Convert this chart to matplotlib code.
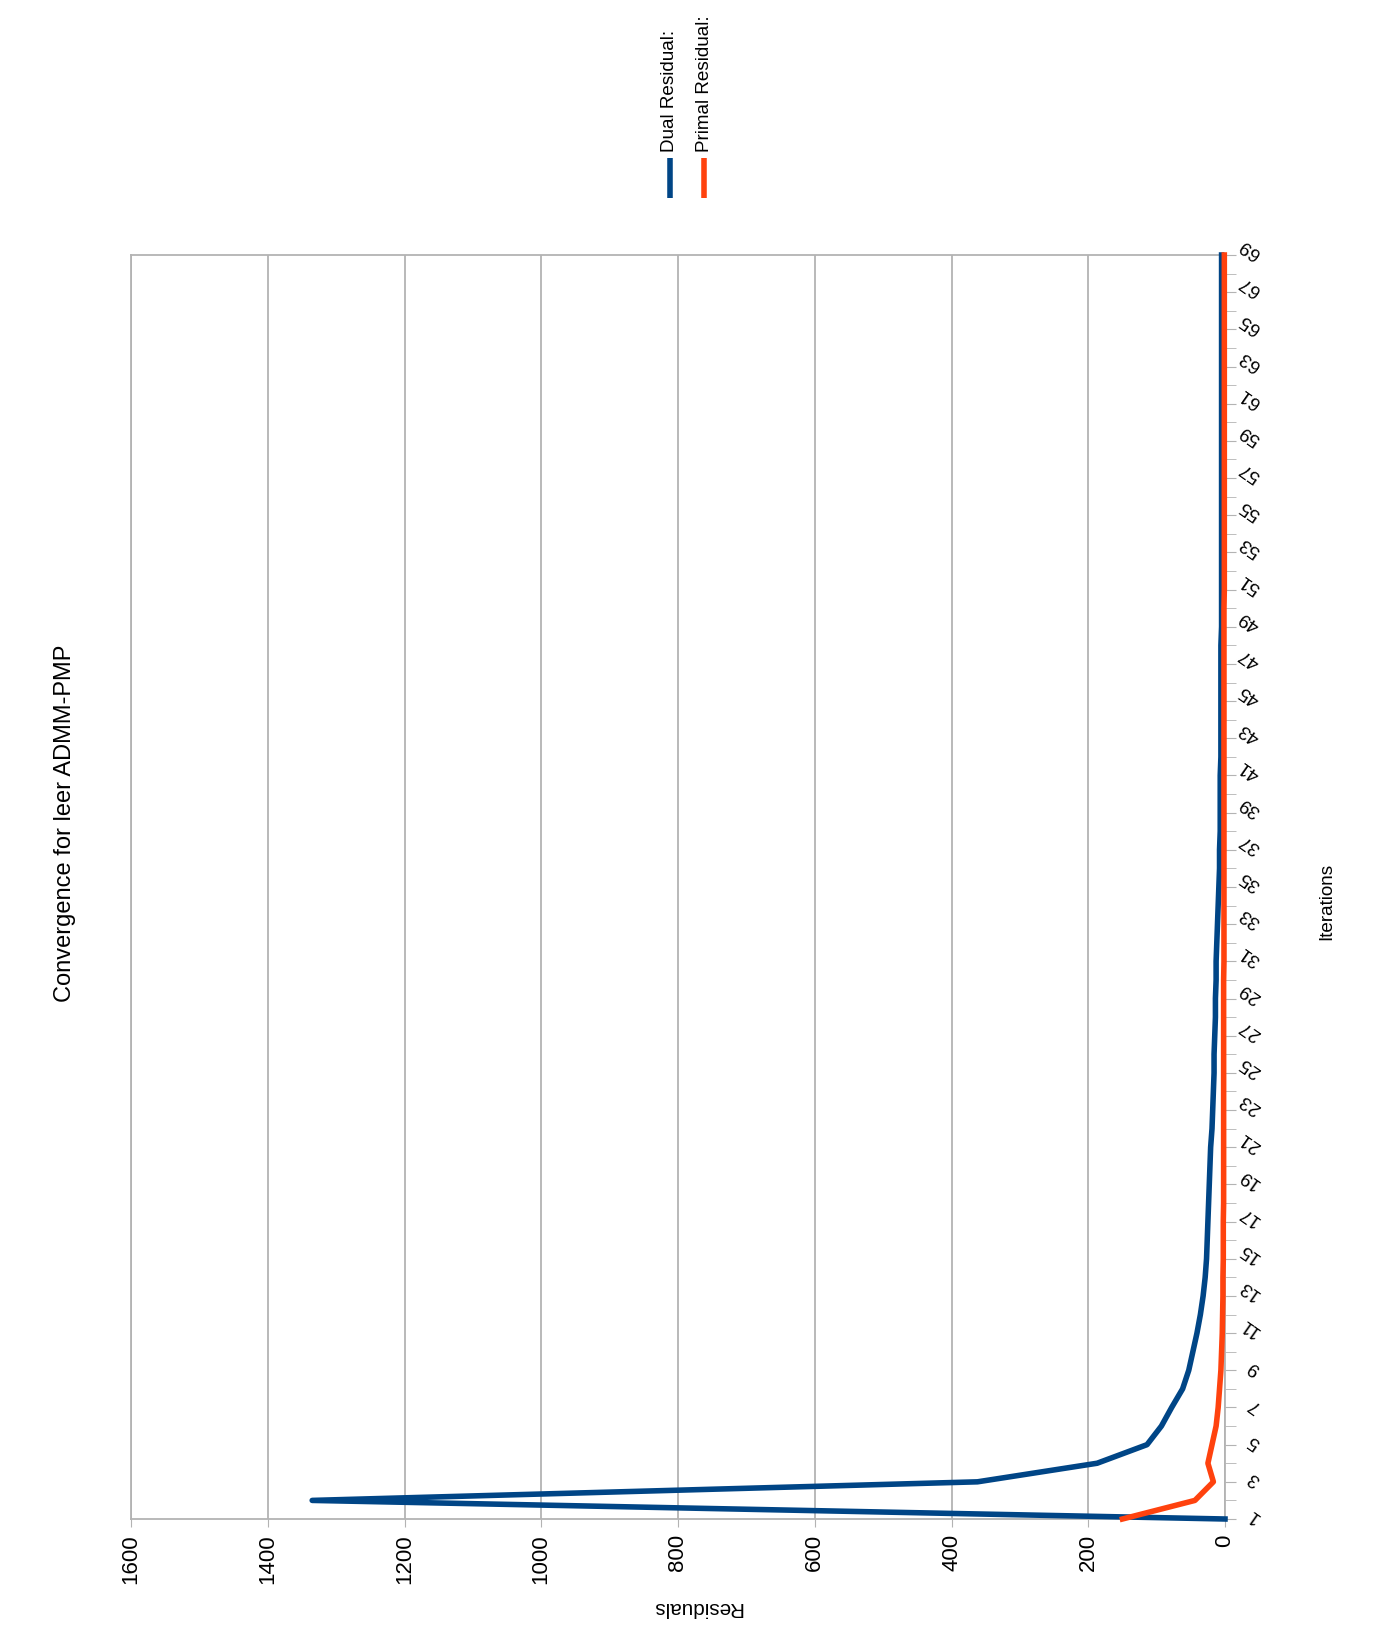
import matplotlib
matplotlib.use("Agg")
import matplotlib.pyplot as plt
from matplotlib import font_manager
from matplotlib.lines import Line2D

# chart input
iterations = list(range(1, 70))
dual = [0, 1335, 362, 187, 114, 93, 78, 62, 53, 47,
        41, 36, 32, 29, 27, 26, 25, 24, 23, 22,
        21, 19, 18, 17, 16, 16, 15, 14, 14, 13,
        13, 12, 11, 10, 9, 8, 8, 7, 7, 7,
        7, 6, 6, 6, 6, 6, 6, 6, 5, 5,
        5, 5, 5, 5, 5, 5, 5, 5, 5, 5,
        5, 5, 5, 5, 5, 5, 5, 5, 5]
primal = [150, 44, 17, 25, 19, 13, 10, 8, 6, 5,
          4, 3.5, 3, 3, 2.5, 2.5, 2.5, 2, 2, 2,
          2, 2, 2, 2, 2, 2, 2, 2, 2, 2,
          1.5, 1.5, 1.5, 1.5, 1.5, 1.5, 1.5, 1.5, 1.5, 1.5,
          1.5, 1.5, 1.5, 1.5, 1.5, 1.5, 1.5, 1.5, 1.5, 1.5,
          1, 1, 1, 1, 1, 1, 1, 1, 1, 1,
          1, 1, 1, 1, 1, 1, 1, 1, 1]
residual_ticks = list(range(0, 1601, 200))

title = "Convergence for leer ADMM-PMP"
series_names = ["Dual Residual:", "Primal Residual:"]
colors = ["#004586", "#ff420e"]

# fonts
names = {f.name for f in font_manager.fontManager.ttflist}
narrow = "Liberation Sans Narrow" if "Liberation Sans Narrow" in names else "Liberation Sans"
shrink = 1.0 if narrow == "Liberation Sans Narrow" else 0.85
plt.rcParams["font.family"] = ["Liberation Sans", "DejaVu Sans"]

fig = plt.figure(figsize=(13.73, 16.48), dpi=100)
ax = fig.add_axes([131 / 1373, 1 - 1519 / 1648, (1225 - 131) / 1373, (1519 - 255) / 1648])

# chart is drawn turned a quarter turn: residuals run right-to-left, iterations bottom-to-top
ax.plot(dual, iterations, color=colors[0], lw=4, clip_on=False, zorder=3)
ax.plot(primal, iterations, color=colors[1], lw=4, clip_on=False, zorder=4)

ax.set_xlim(1600, 0)
ax.set_ylim(1, 69)
ax.set_xticks(residual_ticks)
ax.set_xticklabels([str(v) for v in residual_ticks], rotation=90,
                   fontsize=16 / 0.85 * shrink, family=narrow)
ax.grid(axis="x", color="#b3b3b3", lw=1.3)
ax.set_axisbelow(True)

ax.yaxis.tick_right()
ax.set_yticks(iterations[::2])
ax.set_yticks(iterations[1::2], minor=True)
ax.set_yticklabels([str(v) for v in iterations[::2]], rotation=145,
                   fontsize=16 * shrink, family=narrow, ha="left", va="center",
                   rotation_mode="anchor")
ax.tick_params(axis="y", which="both", direction="out", length=8, color="#b3b3b3", pad=16)
ax.tick_params(axis="x", direction="out", length=6, color="#b3b3b3", pad=5)

for s in ax.spines.values():
    s.set_color("#b3b3b3")
    s.set_linewidth(1.3)

# titles
fig.text(65 / 1373, 1 - 823 / 1648, title, rotation=90, ha="center", va="center",
         fontsize=20 * shrink, family=narrow)
fig.text(697 / 1373, 1 - 1608 / 1648, "Residuals", rotation=180, ha="center", va="center",
         fontsize=17.5 * shrink, family=narrow)
fig.text(1327 / 1373, 1 - 901 / 1648, "Iterations", rotation=90, ha="center", va="center",
         fontsize=16 * shrink, family=narrow)

# legend, stacked left to right at the top
for i, (name, c) in enumerate(zip(series_names, colors)):
    x = (670 + 34 * i) / 1373
    fig.add_artist(Line2D([x, x], [1 - 198 / 1648, 1 - 158 / 1648], color=c, lw=4,
                          solid_capstyle="butt"))
    fig.text(x, 1 - 152 / 1648, name, rotation=90, ha="center", va="bottom",
             fontsize=16 * shrink, family=narrow)

fig.savefig("out.png", dpi=100, facecolor="white")
